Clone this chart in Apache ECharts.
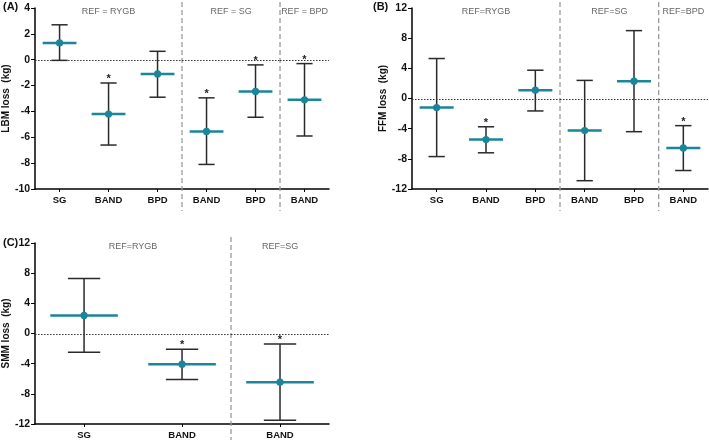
<!DOCTYPE html>
<html><head><meta charset="utf-8">
<script src="https://cdn.jsdelivr.net/npm/echarts@6/dist/echarts.min.js"></script>
<style>html,body{margin:0;padding:0;background:#fff}#c{width:709px;height:440px}</style>
</head><body><div id="c"></div>
<script>
// Panel A: LBM loss
const catsA = ['SG','BAND','BPD','BAND','BPD','BAND'];
const meanA = [1.3,-4.2,-1.1,-5.55,-2.45,-3.1];
const lowA  = [-0.05,-6.6,-2.9,-8.1,-4.45,-5.9];
const highA = [2.7,-1.8,0.65,-2.95,-0.4,-0.3];
const starA = [0,1,0,1,1,1];
const groupNamesA = ['REF = RYGB','REF = SG','REF = BPD'];
const groupSpansA = [[0,2],[3,4],[5,5]];
const yTicksA = {min:-10,max:4,interval:2};

// Panel B: FFM loss
const catsB = ['SG','BAND','BPD','BAND','BPD','BAND'];
const meanB = [-1.2,-5.45,1.1,-4.25,2.3,-6.55];
const lowB  = [-7.7,-7.2,-1.65,-10.9,-4.4,-9.55];
const highB = [5.3,-3.75,3.75,2.4,9.0,-3.6];
const starB = [0,1,0,0,0,1];
const groupNamesB = ['REF=RYGB','REF=SG','REF=BPD'];
const groupSpansB = [[0,2],[3,4],[5,5]];
const yTicksB = {min:-12,max:12,interval:4};

// Panel C: SMM loss
const catsC = ['SG','BAND','BAND'];
const meanC = [2.4,-4.07,-6.46];
const lowC  = [-2.5,-6.1,-11.5];
const highC = [7.3,-2.08,-1.4];
const starC = [0,1,1];
const groupNamesC = ['REF=RYGB','REF=SG'];
const groupSpansC = [[0,1],[2,2]];
const yTicksC = {min:-12,max:12,interval:4};

const TEAL = '#1b8599';
const BAR = '#2a2a2a';
const FONT = 'Arial, "Liberation Sans", sans-serif';

const chart = echarts.init(document.getElementById('c'));

const panels = [
  {cats:catsA, mean:meanA, low:lowA, high:highA, star:starA, gn:groupNamesA, gs:groupSpansA, yt:yTicksA, name:'LBM loss  (kg)', grid:{left:33, top:8, width:296, height:181}, sepTop:-6, sepBot:22},
  {cats:catsB, mean:meanB, low:lowB, high:highB, star:starB, gn:groupNamesB, gs:groupSpansB, yt:yTicksB, name:'FFM loss  (kg)', grid:{left:412, top:8, width:296, height:181}, sepTop:-6, sepBot:22},
  {cats:catsC, mean:meanC, low:lowC, high:highC, star:starC, gn:groupNamesC, gs:groupSpansC, yt:yTicksC, name:'SMM loss  (kg)', grid:{left:33, top:243, width:296, height:181}, sepTop:-6, sepBot:20}
];

const grid = [], xAxis = [], yAxis = [], series = [];
panels.forEach((p, k) => {
  grid.push(p.grid);
  xAxis.push({
    type:'category', gridIndex:k, data:p.cats, boundaryGap:true,
    axisLine:{onZero:false, lineStyle:{color:'#000', width:1.5}},
    axisTick:{show:true, alignWithLabel:true, length:3, lineStyle:{color:'#000', width:1}},
    axisLabel:{color:'#111', fontWeight:'bold', fontSize:9.5, fontFamily:FONT, margin:6},
    splitLine:{show:false}
  });
  yAxis.push({
    type:'value', gridIndex:k, min:p.yt.min, max:p.yt.max, interval:p.yt.interval,
    name:p.name, nameLocation:'middle', nameGap:20,
    nameTextStyle:{color:'#111', fontWeight:'bold', fontSize:10, fontFamily:FONT},
    axisLine:{show:true, lineStyle:{color:'#000', width:1.5}},
    axisTick:{show:true, length:4, lineStyle:{color:'#000', width:1}},
    axisLabel:{color:'#111', fontWeight:'bold', fontSize:10.5, fontFamily:FONT, margin:5},
    splitLine:{show:false}
  });
  // groups, separators, zero line
  const gdata = p.gs.map((s, i) => [s[0], s[1], i]);
  series.push({
    type:'custom', xAxisIndex:k, yAxisIndex:k, silent:true, clip:false, z:1,
    data:gdata,
    renderItem:(params, api) => {
      const s = api.value(0), e = api.value(1), gi = params.dataIndex;
      const band = api.size([1,0])[0];
      const x0 = api.coord([s, 0])[0] - band/2;
      const x1 = api.coord([e, 0])[0] + band/2;
      const top = api.coord([s, p.yt.max])[1];
      const bot = api.coord([s, p.yt.min])[1];
      const zy = Math.round(api.coord([s, 0])[1]) + 0.5;
      const children = [
        {type:'line', shape:{x1:x0, y1:zy, x2:x1, y2:zy}, style:{stroke:'#333', lineWidth:1, lineDash:[1.5,1.5]}},
        {type:'text', style:{text:p.gn[gi], x:(x0+x1)/2, y:top+3.5, align:'center', verticalAlign:'middle',
          fill:'#666', font:'9px ' + FONT}}
      ];
      if (gi < p.gs.length - 1) {
        children.push({type:'line', shape:{x1:x1, y1:top+p.sepTop, x2:x1, y2:bot+p.sepBot},
          style:{stroke:'#9a9a9a', lineWidth:1.3, lineDash:[5,3]}});
      }
      return {type:'group', children};
    }
  });
  // error bars
  const edata = p.mean.map((m, i) => [i, m, p.low[i], p.high[i], p.star[i]]);
  series.push({
    type:'custom', xAxisIndex:k, yAxisIndex:k, silent:true, clip:false, z:3,
    data:edata,
    renderItem:(params, api) => {
      const i = api.value(0);
      const c = api.coord([i, api.value(1)]);
      const lo = api.coord([i, api.value(2)]);
      const hi = api.coord([i, api.value(3)]);
      const band = api.size([1,0])[0];
      const capW = band*0.33, meanW = band*0.69;
      const children = [
        {type:'line', shape:{x1:c[0], y1:hi[1], x2:c[0], y2:lo[1]}, style:{stroke:BAR, lineWidth:1.5}},
        {type:'line', shape:{x1:c[0]-capW/2, y1:hi[1], x2:c[0]+capW/2, y2:hi[1]}, style:{stroke:BAR, lineWidth:1.5}},
        {type:'line', shape:{x1:c[0]-capW/2, y1:lo[1], x2:c[0]+capW/2, y2:lo[1]}, style:{stroke:BAR, lineWidth:1.5}},
        {type:'line', shape:{x1:c[0]-meanW/2, y1:c[1], x2:c[0]+meanW/2, y2:c[1]}, style:{stroke:TEAL, lineWidth:2.5}},
        {type:'circle', shape:{cx:c[0], cy:c[1], r:3.6}, style:{fill:TEAL}}
      ];
      if (api.value(4)) {
        children.push({type:'text', style:{text:'*', x:c[0], y:hi[1]-4, align:'center', verticalAlign:'middle',
          fill:'#222', font:'bold 11px ' + FONT}});
      }
      return {type:'group', children};
    }
  });
});

chart.setOption({
  animation:false,
  backgroundColor:'#fff',
  grid, xAxis, yAxis, series,
  graphic:[
    {type:'text', left:3, top:1, style:{text:'(A)', font:'bold 11px ' + FONT, fill:'#111'}},
    {type:'text', left:373, top:1, style:{text:'(B)', font:'bold 11px ' + FONT, fill:'#111'}},
    {type:'text', left:3, top:237, style:{text:'(C)', font:'bold 11px ' + FONT, fill:'#111'}}
  ]
});
</script></body></html>
